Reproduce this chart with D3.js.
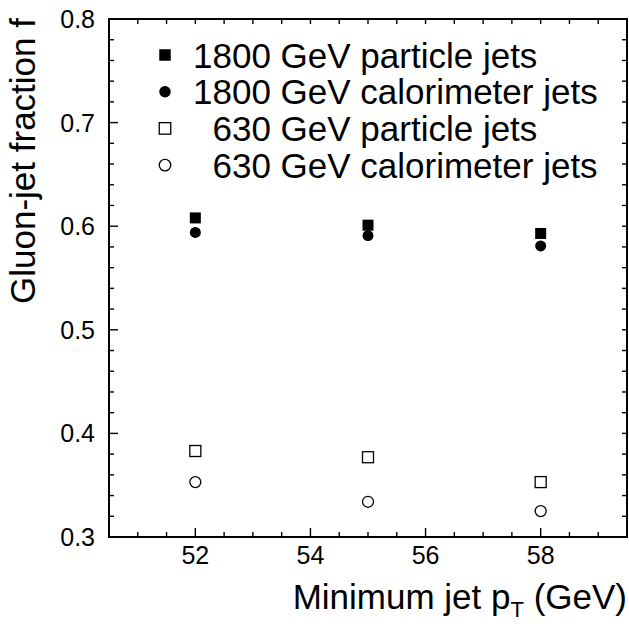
<!DOCTYPE html>
<html><head><meta charset="utf-8">
<script src="https://cdn.jsdelivr.net/npm/d3@7"></script>
<style>body{margin:0;background:#fff}svg{display:block}text{font-family:"Liberation Sans",Arial,sans-serif;fill:#000}</style>
</head><body>
<script>
const ptCuts = [52, 55, 58];
const p1800Particle = [0.608, 0.601, 0.593];
const p1800Calo = [0.594, 0.591, 0.581];
const p630Particle = [0.383, 0.377, 0.353];
const p630Calo = [0.353, 0.334, 0.325];
const seriesNames = ["1800 GeV particle jets", "1800 GeV calorimeter jets", "630 GeV particle jets", "630 GeV calorimeter jets"];
const xTicks = [52, 54, 56, 58];
const yTicks = [0.3, 0.4, 0.5, 0.6, 0.7, 0.8];

const W = 629, H = 629;
const L = 109, R = 627, T = 19, B = 537;
const svg = d3.select("body").append("svg").attr("width", W).attr("height", H);
const x = d3.scaleLinear().domain([50.5, 59.5]).range([L, R]);
const y = d3.scaleLinear().domain([0.3, 0.8]).range([B, T]);

const series = [
  {name: seriesNames[0], vals: p1800Particle, shape: "square", fill: true},
  {name: seriesNames[1], vals: p1800Calo, shape: "circle", fill: true},
  {name: seriesNames[2], vals: p630Particle, shape: "square", fill: false},
  {name: seriesNames[3], vals: p630Calo, shape: "circle", fill: false}
];

// ticks
const xMinor = d3.range(51, 59.01, 0.5);
const yMinor = d3.range(0.3, 0.8001, 0.02).map(v => +v.toFixed(2));
const g = svg.append("g").attr("stroke", "#000").attr("stroke-width", 1.4);
xMinor.forEach(v => {
  const major = xTicks.includes(v);
  g.append("line").attr("x1", x(v)).attr("x2", x(v)).attr("y1", B).attr("y2", B - (major ? 9 : 5));
  g.append("line").attr("x1", x(v)).attr("x2", x(v)).attr("y1", T).attr("y2", T + 5);
});
yMinor.forEach(v => {
  const major = yTicks.some(t => Math.abs(t - v) < 1e-6);
  g.append("line").attr("y1", y(v)).attr("y2", y(v)).attr("x1", L).attr("x2", L + (major ? 9 : 5));
  g.append("line").attr("y1", y(v)).attr("y2", y(v)).attr("x1", R).attr("x2", R - 5);
});
svg.append("rect").attr("x", L).attr("y", T).attr("width", R - L).attr("height", B - T)
  .attr("fill", "none").attr("stroke", "#000").attr("stroke-width", 2);

// tick labels
svg.append("g").selectAll("text").data(xTicks).join("text")
  .attr("x", d => x(d)).attr("y", 564).attr("text-anchor", "middle")
  .attr("font-size", 25).text(d => d);
svg.append("g").selectAll("text").data(yTicks).join("text")
  .attr("x", 95).attr("y", d => y(d) + 9).attr("text-anchor", "end")
  .attr("font-size", 25).text(d => d.toFixed(1));

// axis titles
const xt = svg.append("text").attr("x", R).attr("y", 609).attr("text-anchor", "end").attr("font-size", 35);
xt.append("tspan").text("Minimum jet p");
xt.append("tspan").attr("font-size", 22).attr("dy", 8).text("T");
xt.append("tspan").attr("dy", -8).text(" (GeV)");
svg.append("text").attr("transform", `translate(35,${T - 1}) rotate(-90)`).attr("text-anchor", "end")
  .attr("font-size", 35).text("Gluon-jet fraction f");

function drawMarker(sel, shape, fill, cx, cy, size) {
  if (shape === "square") {
    sel.append("rect").attr("x", cx - size / 2).attr("y", cy - size / 2).attr("width", size).attr("height", size)
      .attr("fill", fill ? "#000" : "#fff").attr("stroke", "#000").attr("stroke-width", fill ? 0 : 1.3);
  } else {
    sel.append("circle").attr("cx", cx).attr("cy", cy).attr("r", size / 2)
      .attr("fill", fill ? "#000" : "#fff").attr("stroke", "#000").attr("stroke-width", fill ? 0 : 1.3);
  }
}

// points
const pts = svg.append("g");
series.forEach(s => {
  s.vals.forEach((v, i) => drawMarker(pts, s.shape, s.fill, x(ptCuts[i]), y(v), 11));
});

// legend
const leg = svg.append("g");
const fs = 35;
series.forEach((s, i) => {
  const cy = 55 + i * 36.7;
  drawMarker(leg, s.shape, s.fill, 165, cy, 11.5);
  const short = s.name.startsWith("630");
  leg.append("text").attr("x", 193 + (short ? 0.556 * fs : 0)).attr("y", cy + 12.5)
    .attr("font-size", fs).text(s.name);
});
</script>
</body></html>
